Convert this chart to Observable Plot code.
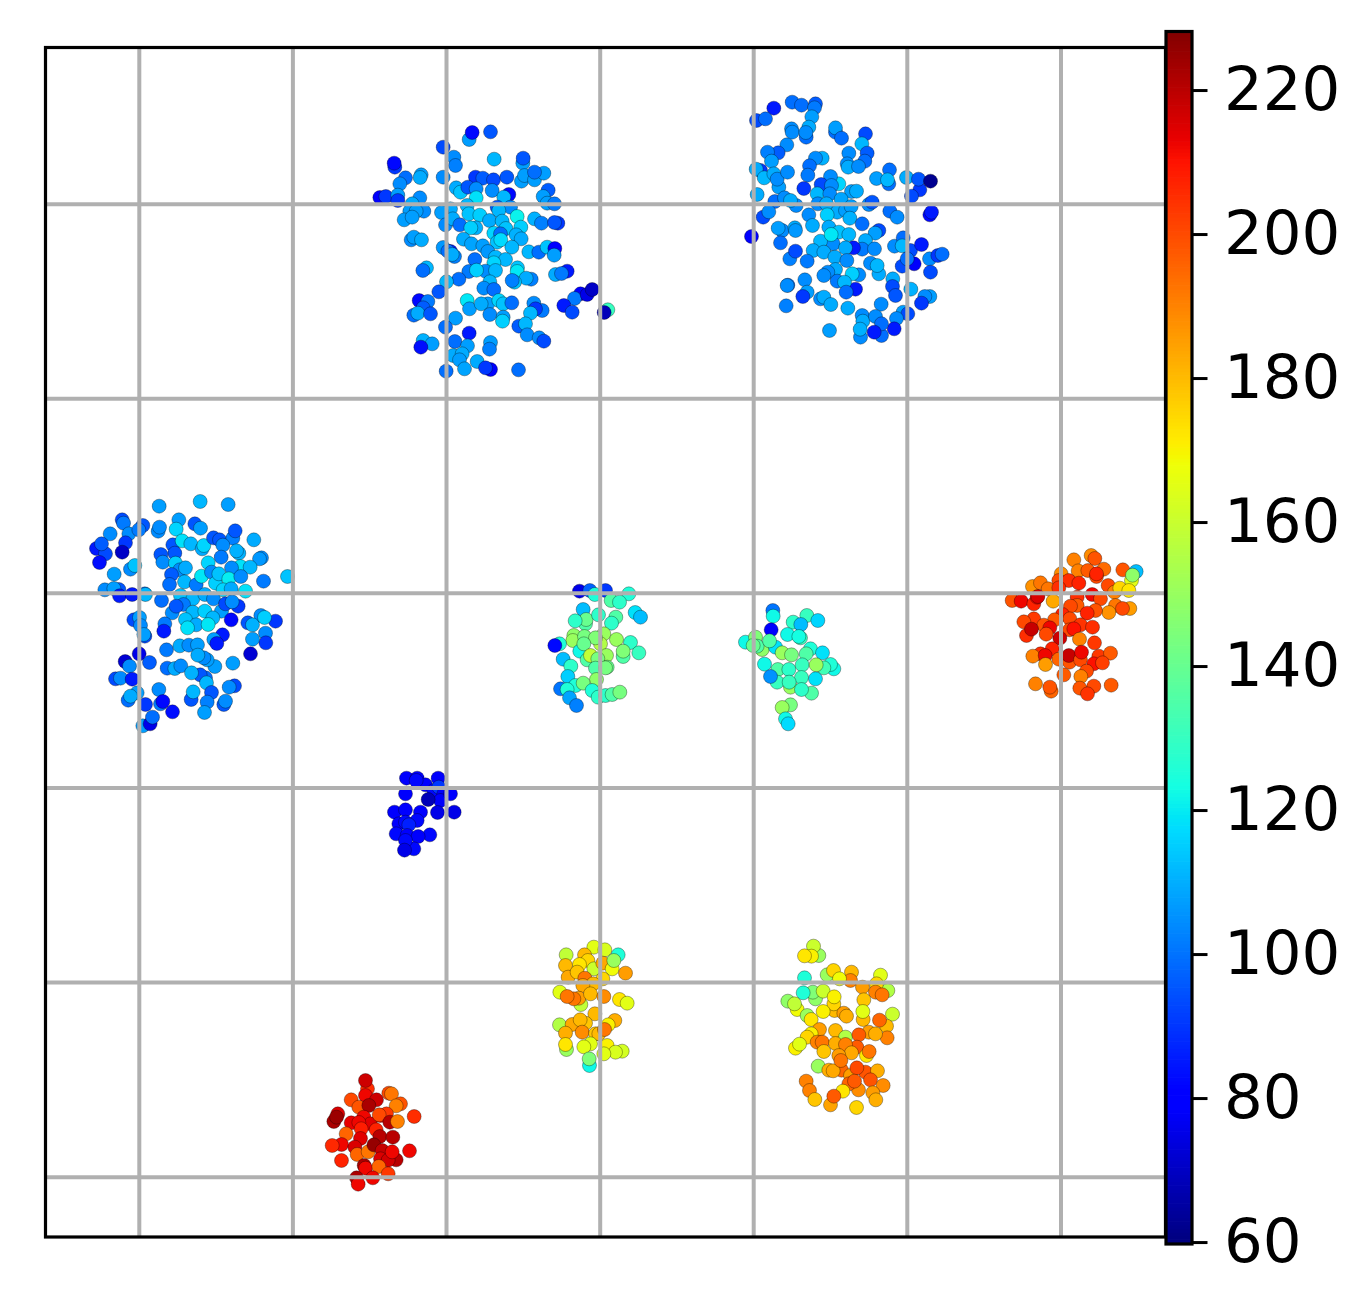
<!DOCTYPE html>
<html>
<head>
<meta charset="utf-8">
<script src="https://cdn.jsdelivr.net/npm/d3@7"></script>
<script src="https://cdn.jsdelivr.net/npm/@observablehq/plot@0.6"></script>
<style>
html,body{margin:0;padding:0;background:#fff}
#chart{position:relative;width:1370px;height:1307px;overflow:hidden}
#chart svg{position:absolute;left:0;top:0;background:transparent}
</style>
</head>
<body>
<div id="chart"></div>
<script>
// Each cluster: rows of [x, y, value], positions read relative to the cluster's corner in thirds of a unit.
const clusterNorth = [[296,57,107],[305,36,82],[360,34,95],[218,80,93],[250,110,104],[255,135,102],[371,116,111],[457,128,107],[458,113,95],[73,140,90],[71,128,82],[105,172,99],[88,190,104],[152,163,107],[149,171,109],[218,170,104],[315,170,90],[337,173,96],[369,178,93],[409,170,95],[453,182,107],[462,165,107],[492,178,107],[520,158,107],[492,155,99],[257,202,109],[270,215,113],[292,200,95],[317,205,104],[365,210,104],[317,232,118],[415,222,82],[400,230,111],[533,209,96],[518,228,107],[530,248,107],[552,250,101],[28,231,78],[46,228,90],[82,224,107],[82,240,90],[148,232,104],[125,250,109],[290,255,111],[380,260,95],[420,260,104],[240,265,109],[118,272,107],[160,272,104],[137,272,107],[213,276,107],[101,298,107],[125,290,107],[295,280,113],[328,284,115],[385,270,111],[440,288,121],[225,313,104],[247,295,109],[268,313,99],[357,300,109],[395,302,111],[492,295,110],[513,308,102],[562,308,90],[552,306,95],[316,322,110],[301,322,115],[406,324,113],[451,320,115],[370,338,116],[390,340,99],[437,343,110],[452,355,109],[122,358,104],[130,350,107],[153,358,109],[279,356,109],[380,365,113],[391,358,117],[303,370,108],[337,376,107],[424,380,111],[218,381,106],[240,393,85],[232,392,99],[252,408,102],[245,402,109],[352,393,106],[475,394,111],[505,395,99],[530,380,113],[553,384,80],[551,404,107],[375,410,111],[405,417,111],[370,427,116],[313,417,99],[168,442,111],[157,450,99],[295,453,101],[345,452,104],[318,449,115],[375,450,111],[441,442,113],[440,453,119],[265,476,99],[228,484,111],[482,476,102],[467,473,109],[432,485,113],[425,480,102],[555,462,109],[590,452,85],[573,459,101],[358,484,111],[340,503,104],[370,507,99],[205,514,95],[146,540,82],[172,543,101],[158,562,96],[130,584,99],[142,578,109],[180,580,95],[290,540,119],[297,565,107],[352,550,107],[332,550,109],[385,540,116],[398,550,113],[424,547,99],[358,582,104],[398,590,107],[396,602,115],[490,548,104],[515,570,101],[495,565,90],[480,578,111],[630,520,80],[612,534,101],[580,555,85],[605,575,93],[650,522,75],[665,507,70],[445,617,96],[465,610,111],[470,643,104],[255,593,107],[225,620,99],[296,638,85],[253,663,99],[291,676,107],[158,660,110],[185,670,107],[151,680,83],[360,666,107],[357,686,102],[506,652,104],[520,662,93],[248,705,109],[275,700,109],[267,718,107],[320,723,109],[282,745,108],[227,752,99],[360,747,80],[345,742,90],[444,748,99],[712,568,130],[701,576,68]];
const clusterNorthEast = [[155,35,99],[183,44,99],[225,40,96],[222,52,101],[100,53,85],[48,90,93],[75,85,99],[214,79,107],[153,115,104],[155,125,104],[205,110,109],[197,140,99],[196,126,104],[285,125,99],[285,112,107],[303,143,99],[375,130,93],[364,160,111],[139,163,104],[113,187,96],[81,185,102],[93,212,107],[325,188,104],[380,188,96],[373,212,99],[320,220,104],[323,230,109],[354,228,104],[245,203,110],[225,203,104],[207,226,99],[202,254,101],[60,240,90],[47,236,109],[71,262,111],[100,250,109],[115,290,107],[110,266,104],[141,245,104],[447,238,99],[408,264,107],[445,280,99],[441,268,111],[498,261,109],[538,298,90],[534,266,95],[570,272,62],[513,317,93],[295,280,116],[270,258,104],[242,282,93],[190,294,90],[273,285,104],[230,310,111],[268,310,104],[50,312,109],[103,333,99],[132,322,104],[167,345,104],[150,330,109],[333,303,107],[348,302,109],[302,326,108],[232,340,104],[258,340,109],[385,342,104],[395,335,95],[68,380,93],[85,364,104],[205,373,104],[290,365,109],[315,360,107],[332,348,107],[328,383,110],[260,373,115],[448,362,99],[470,380,104],[568,373,82],[573,365,85],[125,420,104],[113,413,107],[163,412,109],[165,420,106],[216,405,109],[365,400,99],[265,410,109],[415,420,93],[404,428,107],[120,457,99],[33,438,80],[295,425,113],[325,432,111],[278,460,104],[240,452,111],[272,432,119],[375,450,109],[365,476,101],[339,472,85],[402,475,104],[462,467,104],[488,442,99],[510,480,93],[485,466,111],[543,462,85],[218,480,109],[148,505,102],[165,482,93],[200,512,101],[250,485,109],[315,472,109],[283,500,109],[319,510,104],[567,505,104],[592,495,90],[605,491,99],[570,545,93],[521,520,78],[485,527,93],[500,505,99],[390,518,104],[415,550,109],[410,525,111],[285,537,109],[262,545,104],[250,555,104],[355,553,104],[335,550,115],[193,568,104],[142,584,99],[140,585,104],[290,572,101],[345,596,85],[312,575,111],[317,605,99],[457,565,109],[456,588,93],[465,615,95],[511,596,110],[200,605,107],[187,618,90],[240,625,104],[250,620,109],[271,642,109],[322,653,109],[137,646,102],[422,641,104],[568,618,107],[553,618,104],[543,638,90],[365,675,104],[367,692,109],[405,678,104],[488,665,107],[502,670,93],[468,684,104],[461,715,85],[360,740,104],[359,716,110],[423,735,99],[423,700,99],[401,725,85],[267,720,107]];
const clusterWest = [[344,33,111],[221,47,107],[428,42,107],[110,88,93],[114,98,101],[74,130,104],[130,130,104],[172,105,95],[160,118,101],[218,122,104],[222,110,104],[280,88,107],[328,100,95],[345,113,107],[272,116,116],[33,174,85],[60,190,93],[48,160,96],[120,157,90],[110,185,70],[42,216,83],[262,163,95],[290,151,118],[316,160,111],[350,175,109],[355,165,116],[384,142,95],[402,148,95],[442,143,102],[412,164,104],[449,121,95],[505,148,109],[268,188,95],[226,192,95],[232,215,104],[407,200,101],[460,188,110],[453,181,110],[135,236,104],[148,225,113],[86,251,107],[270,218,115],[283,238,104],[300,232,109],[368,217,116],[528,202,104],[522,205,106],[465,228,118],[494,230,111],[438,232,104],[258,252,96],[252,282,99],[297,274,111],[332,283,101],[348,257,119],[378,245,104],[390,278,115],[400,250,113],[430,265,120],[466,258,104],[534,272,101],[606,258,113],[58,298,104],[100,297,95],[85,294,107],[102,316,85],[140,312,85],[178,310,99],[180,312,111],[228,330,99],[285,315,113],[322,325,111],[358,312,109],[384,325,104],[413,298,116],[480,302,118],[437,295,109],[260,367,104],[294,342,101],[272,347,95],[322,365,111],[358,362,115],[408,362,107],[420,340,93],[458,347,90],[440,334,104],[145,388,93],[162,381,107],[165,405,104],[300,387,113],[332,403,109],[306,412,118],[382,382,111],[368,402,119],[437,388,82],[238,400,101],[235,422,85],[178,437,93],[175,432,107],[487,397,95],[526,375,104],[570,392,90],[501,403,110],[537,381,115],[540,428,104],[541,457,90],[501,446,107],[495,490,72],[411,433,85],[385,447,107],[394,459,85],[243,478,101],[283,466,109],[310,464,104],[336,463,107],[388,528,107],[365,508,107],[355,502,104],[337,494,109],[161,490,75],[119,513,72],[192,516,96],[132,527,104],[442,518,107],[245,533,99],[268,534,109],[286,526,104],[360,562,99],[344,553,95],[318,547,110],[363,577,111],[90,565,93],[105,563,104],[140,566,85],[220,597,104],[155,607,107],[128,629,99],[135,617,109],[180,642,90],[447,586,93],[431,590,104],[378,606,95],[317,627,95],[323,604,111],[365,635,102],[415,642,95],[420,632,104],[357,666,107],[225,640,101],[232,633,82],[261,664,83],[172,706,107],[194,700,75],[201,680,99]];
const clusterCentre = [[117,32,75],[148,30,97],[163,42,125],[195,30,90],[265,40,125],[212,60,135],[237,65,128],[128,87,112],[284,96,118],[300,110,112],[135,130,135],[137,117,140],[104,121,128],[174,103,128],[226,110,135],[213,128,128],[100,165,148],[97,180,150],[132,168,143],[190,160,150],[180,190,155],[165,172,145],[228,177,150],[57,190,125],[43,195,82],[118,212,122],[130,190,140],[270,186,128],[248,228,135],[248,212,145],[295,217,130],[140,238,135],[150,225,158],[198,225,150],[172,235,143],[68,236,112],[91,257,128],[165,263,135],[200,260,140],[195,262,143],[82,288,115],[168,297,148],[105,315,125],[128,308,143],[60,325,100],[80,327,125],[87,352,108],[108,375,102],[155,330,125],[173,350,128],[195,345,128],[215,342,135],[238,335,143]];
const clusterCentreEast = [[127,45,100],[128,62,122],[229,60,130],[188,80,128],[262,75,116],[211,87,112],[122,103,78],[171,117,122],[210,127,130],[205,123,123],[45,140,122],[75,125,145],[95,162,148],[80,152,135],[68,150,140],[135,155,118],[117,136,135],[155,172,150],[183,178,143],[240,160,125],[276,172,118],[227,175,135],[102,206,122],[142,222,135],[175,222,128],[215,208,130],[310,220,122],[300,207,125],[280,217,132],[257,208,150],[140,260,130],[120,243,105],[213,246,130],[255,250,118],[180,275,150],[176,260,130],[243,293,135],[213,282,128],[180,328,143],[155,336,150],[165,370,122],[173,385,117]];
const clusterEast = [[220,58,190],[272,45,188],[283,54,198],[233,91,190],[182,100,188],[262,90,197],[310,86,194],[288,108,200],[288,100,207],[367,88,198],[407,93,112],[393,120,165],[396,104,148],[96,138,187],[120,127,192],[143,145,192],[175,120,200],[205,120,205],[235,128,207],[175,142,205],[323,135,200],[342,155,190],[358,143,175],[385,150,172],[35,180,198],[62,182,212],[100,190,207],[110,170,210],[112,168,215],[158,182,183],[230,170,205],[275,162,212],[300,175,200],[345,195,192],[388,204,185],[366,204,200],[325,216,187],[230,195,197],[210,197,200],[285,210,198],[260,218,207],[186,222,207],[208,235,200],[162,238,197],[100,235,203],[70,244,200],[130,254,198],[148,262,212],[78,285,205],[93,266,218],[137,281,200],[240,253,204],[207,268,200],[220,265,210],[276,260,205],[178,293,217],[237,296,190],[282,307,203],[155,325,207],[120,340,205],[97,347,190],[134,345,212],[135,372,185],[175,356,195],[207,365,198],[205,345,218],[240,358,200],[243,335,212],[295,347,203],[330,338,197],[280,370,210],[306,367,202],[258,392,200],[190,403,197],[241,408,190],[105,430,190],[152,452,195],[148,440,198],[238,443,198],[280,437,200],[261,460,204],[332,434,197]];
const clusterIndigo = [[78,38,78],[110,38,78],[135,58,80],[107,45,82],[173,38,78],[75,85,78],[160,75,82],[175,65,90],[190,85,78],[180,105,78],[143,102,68],[210,85,80],[171,141,75],[221,140,75],[42,140,78],[75,133,80],[120,140,80],[55,175,78],[110,165,82],[75,170,82],[85,178,86],[47,205,82],[80,210,80],[148,208,82],[113,213,78],[100,250,82],[75,225,82],[72,254,75]];
const clusterSouth = [[145,35,165],[178,43,163],[218,58,125],[62,58,158],[117,58,180],[127,75,175],[60,90,180],[102,87,172],[145,100,160],[172,83,183],[200,100,168],[205,75,150],[240,113,185],[68,125,183],[95,110,178],[172,130,175],[118,128,192],[143,145,180],[112,150,183],[43,170,165],[106,207,158],[100,188,185],[85,190,192],[65,183,192],[135,175,180],[175,183,188],[222,192,172],[245,203,165],[148,235,180],[42,268,155],[80,267,183],[120,263,178],[104,253,180],[110,290,188],[208,255,182],[188,268,170],[150,295,178],[160,295,180],[177,282,192],[60,293,182],[63,342,150],[60,327,172],[135,325,165],[115,334,165],[185,330,170],[230,347,162],[210,350,163],[175,355,165],[132,390,122],[131,370,145]];
const clusterSouthEast = [[115,60,150],[99,32,160],[93,62,170],[72,61,172],[140,118,150],[159,105,175],[213,110,180],[210,135,190],[177,130,168],[300,119,165],[322,165,155],[288,145,175],[246,155,185],[285,170,190],[305,178,192],[72,127,125],[105,190,148],[97,170,145],[68,172,125],[128,167,160],[22,197,148],[50,222,168],[42,205,158],[162,225,180],[160,205,175],[161,184,170],[250,193,178],[190,233,185],[198,242,182],[248,252,180],[247,228,165],[80,240,150],[92,252,172],[128,228,170],[336,236,160],[318,272,180],[297,254,195],[320,307,190],[265,290,185],[285,295,182],[165,285,180],[117,282,185],[92,295,170],[80,305,175],[45,338,170],[57,326,165],[195,305,155],[235,298,197],[110,320,190],[125,320,192],[165,324,182],[229,335,197],[195,327,190],[213,352,183],[130,348,178],[258,360,172],[266,348,192],[113,392,150],[175,360,185],[183,404,195],[145,404,182],[158,406,183],[181,375,192],[210,420,185],[255,410,198],[229,397,200],[291,406,182],[234,463,188],[205,445,195],[270,433,198],[222,437,197],[308,450,188],[77,437,190],[87,465,190],[103,492,178],[187,467,172],[150,508,184],[160,482,197],[277,472,185],[286,493,182],[228,516,175]];
const clusterSouthWest = [[141,55,205],[135,30,217],[135,75,212],[92,88,200],[168,88,217],[205,68,200],[213,70,192],[240,100,198],[227,106,190],[115,110,198],[145,105,222],[52,130,215],[40,153,222],[48,140,224],[130,140,212],[92,157,213],[150,160,214],[115,156,212],[180,135,210],[198,130,203],[176,133,200],[208,155,220],[231,153,190],[281,138,205],[77,190,195],[122,175,208],[167,178,207],[178,198,220],[217,200,220],[120,204,214],[63,222,212],[35,225,206],[103,230,215],[110,252,195],[143,244,192],[160,223,225],[185,240,218],[227,268,220],[180,265,215],[203,269,216],[215,244,212],[267,241,212],[63,270,207],[131,285,222],[135,293,212],[175,288,195],[203,310,203],[157,322,212],[108,322,222],[113,341,212]];

const clusterCorners = [
  [clusterNorth, 370, 120], [clusterNorthEast, 740, 90], [clusterWest, 85, 490],
  [clusterCentre, 540, 580], [clusterCentreEast, 730, 595], [clusterEast, 1000, 540],
  [clusterIndigo, 380, 765], [clusterSouth, 545, 935], [clusterSouthEast, 780, 935],
  [clusterSouthWest, 320, 1070]
];
const gridX = [138.8, 292.4, 446, 599.7, 753.2, 906.8, 1060.5];
const gridY = [203.7, 398.2, 592.7, 787.5, 982, 1176.8];
const colorTicks = [60, 80, 100, 120, 140, 160, 180, 200, 220];
const colorMin = 59.8, colorMax = 228.2;

const points = clusterCorners.flatMap(([rows, ox, oy]) =>
  rows.map(([a, b, v]) => ({x: ox + a / 3, y: oy + b / 3, v})));

// matplotlib "jet"
function seg(stops, t) {
  for (let i = 1; i < stops.length; i++) {
    if (t <= stops[i][0]) {
      const [a, va] = stops[i - 1], [b, vb] = stops[i];
      return va + (vb - va) * (t - a) / (b - a);
    }
  }
  return stops[stops.length - 1][1];
}
const jetR = [[0,0],[0.35,0],[0.66,1],[0.89,1],[1,0.5]];
const jetG = [[0,0],[0.125,0],[0.375,1],[0.64,1],[0.91,0],[1,0]];
const jetB = [[0,0.5],[0.11,1],[0.34,1],[0.65,0],[1,0]];
const jet = t => `rgb(${Math.round(255*seg(jetR,t))},${Math.round(255*seg(jetG,t))},${Math.round(255*seg(jetB,t))})`;
const colorScale = {type: "linear", domain: [colorMin, colorMax], interpolate: jet};

const main = Plot.plot({
  width: 1370, height: 1307,
  marginLeft: 45, marginRight: 205, marginTop: 47, marginBottom: 70.5,
  x: {domain: [45, 1165], range: [45, 1165], axis: null},
  y: {domain: [47, 1236.5], range: [47, 1236.5], axis: null},
  color: colorScale,
  marks: [
    Plot.dot(points, {x: "x", y: "y", r: 7, fill: "v", stroke: "#000", strokeWidth: 0.5, strokeOpacity: 0.65}),
    Plot.ruleX(gridX, {stroke: "#b0b0b0", strokeWidth: 4}),
    Plot.ruleY(gridY, {stroke: "#b0b0b0", strokeWidth: 4}),
    Plot.frame({stroke: "#000", strokeWidth: 3.2})
  ]
});

const barValues = d3.range(colorMin, colorMax, 0.5);
const bar = Plot.plot({
  width: 1370, height: 1307,
  marginLeft: 1165.5, marginRight: 178.5, marginTop: 31, marginBottom: 63.5,
  x: {domain: [0, 1], axis: null},
  y: {domain: [colorMin, colorMax], axis: null},
  color: colorScale,
  marks: [
    Plot.rect(barValues, {x1: 0, x2: 1, y1: d => d, y2: d => Math.min(d + 0.6, colorMax), fill: d => d}),
    Plot.axisY(colorTicks, {
      anchor: "right", tickSize: 15, tickPadding: 17, strokeWidth: 3,
      fontSize: 61, fontFamily: "DejaVu Sans", fill: "#000", stroke: "#000", tickFormat: d => String(d), label: null
    }),
    Plot.frame({stroke: "#000", strokeWidth: 3.2})
  ]
});

const host = document.getElementById("chart");
host.append(main, bar);
</script>
</body>
</html>
